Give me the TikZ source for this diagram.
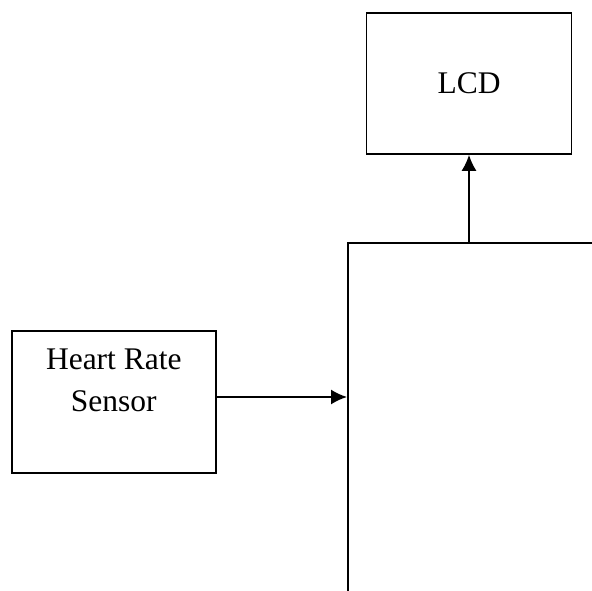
\documentclass[tikz,border=0pt]{standalone}
\usepackage{fontspec}
\setmainfont{Liberation Serif}
\usetikzlibrary{arrows.meta,positioning}

\tikzset{
  block/.style={draw,line width=1.6pt,rectangle,inner sep=0pt},
  link/.style={draw,line width=1.8pt,-{Latex[length=16pt,width=15pt]}},
  lbl/.style={font=\fontsize{31.5}{42}\selectfont,align=center,inner sep=0pt}
}

\begin{document}
\begin{tikzpicture}[>=Latex,x=1pt,y=1pt]
  \useasboundingbox (0,0) rectangle (592,-591);
  % ---- controller block (runs past the page edge) ----
  \node[block,anchor=north west,minimum width=320pt,minimum height=420pt] (ctrl) at (347,-242) {};
  % ---- display ----
  \node[block,lbl,minimum width=205pt,minimum height=141pt] (lcd) at (469,-83.5) {LCD};
  % ---- sensor, text sits in the upper part ----
  \node[block,anchor=north west,minimum width=204pt,minimum height=142pt] (sensor) at (11,-330) {};
  \node[lbl,below=19pt of sensor.north] (sensortxt) {Heart Rate\\Sensor};
  % connectors
  \coordinate (ctrltop) at (ctrl.north -| lcd.south);
  \draw[link] (sensor.east |- 0,-397) -- (ctrl.west |- 0,-397);
  \draw[link] (ctrltop) -- (lcd.south);
\end{tikzpicture}
\end{document}
